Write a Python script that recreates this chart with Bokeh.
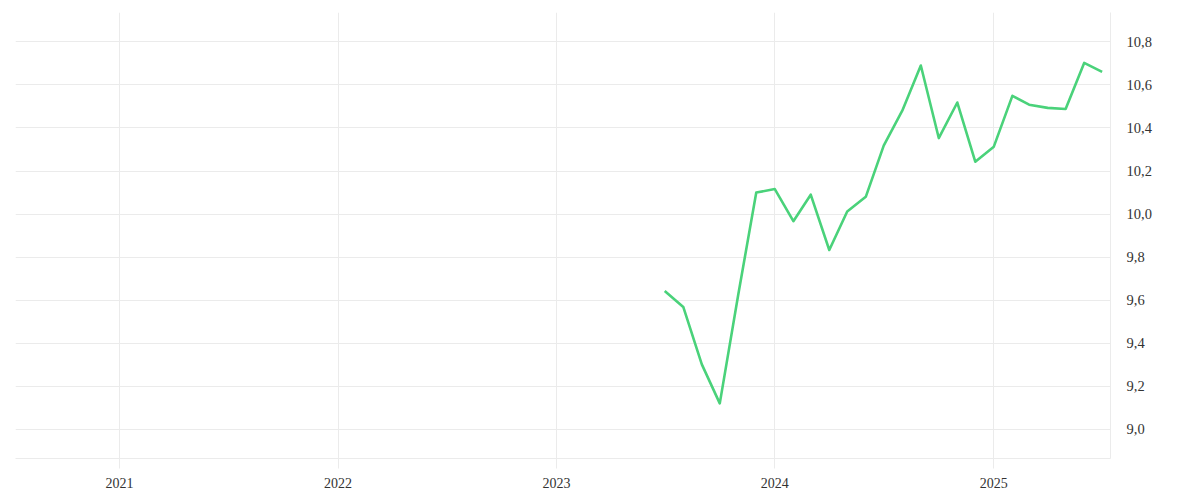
from datetime import datetime
from bokeh.plotting import figure
from bokeh.models import Range1d, FixedTicker, YearsTicker, DatetimeTickFormatter, CustomJSTickFormatter
from bokeh.embed import file_html
from bokeh.resources import INLINE

# Data (monthly)
months = ["2023-07", "2023-08", "2023-09", "2023-10", "2023-11", "2023-12",
          "2024-01", "2024-02", "2024-03", "2024-04", "2024-05", "2024-06",
          "2024-07", "2024-08", "2024-09", "2024-10", "2024-11", "2024-12",
          "2025-01", "2025-02", "2025-03", "2025-04", "2025-05", "2025-06",
          "2025-07"]
values = [9.643, 9.569, 9.302, 9.121, 9.628, 10.100,
          10.116, 9.967, 10.090, 9.833, 10.012, 10.080,
          10.318, 10.480, 10.690, 10.353, 10.518, 10.243,
          10.313, 10.549, 10.508, 10.493, 10.488, 10.702,
          10.660]
y_ticks = [9.0, 9.2, 9.4, 9.6, 9.8, 10.0, 10.2, 10.4, 10.6, 10.8]

dates = [datetime.strptime(m, "%Y-%m") for m in months]

FONT = "Liberation Serif"
TEXT = "#333333"
GRID = "#ebebeb"

p = figure(width=1192, height=492, x_axis_type="datetime", y_axis_location="right",
           output_backend="svg", toolbar_location=None,
           x_range=Range1d(datetime(2020, 7, 11), datetime(2025, 7, 15)),
           y_range=Range1d(8.865, 10.936),
           min_border_left=15, min_border_top=12, min_border_right=82, min_border_bottom=34)
p.outline_line_color = None
p.background_fill_color = "white"
p.border_fill_color = "white"

p.line(dates, values, line_color="#4ad27a", line_width=2.6, line_join="round")

# x axis
xa = p.xaxis[0]
xa.ticker = YearsTicker()
xa.formatter = DatetimeTickFormatter(years="%Y", months="%Y", days="%Y", hours="%Y",
                                     minutes="%Y", seconds="%Y", milliseconds="%Y",
                                     microseconds="%Y", minsec="%Y", hourmin="%Y")
xa.axis_line_color = GRID
xa.major_tick_line_color = GRID
xa.major_tick_in = 0
xa.major_tick_out = 10
xa.minor_tick_line_color = None
xa.major_label_text_font = FONT
xa.major_label_text_font_size = "14px"
xa.major_label_text_color = TEXT
xa.major_label_standoff = 9

# y axis (right)
ya = p.yaxis[0]
ya.ticker = FixedTicker(ticks=y_ticks)
ya.formatter = CustomJSTickFormatter(code="return tick.toFixed(1).replace('.', ',');")
ya.axis_line_color = GRID
ya.major_tick_line_color = None
ya.minor_tick_line_color = None
ya.major_tick_in = 0
ya.major_tick_out = 0
ya.major_label_text_font = FONT
ya.major_label_text_font_size = "14.5px"
ya.major_label_text_color = TEXT
ya.major_label_standoff = 16

p.xgrid.ticker = xa.ticker
p.xgrid.grid_line_color = GRID
p.ygrid.ticker = ya.ticker
p.ygrid.grid_line_color = GRID

open("out.html", "w").write(file_html(p, INLINE))
